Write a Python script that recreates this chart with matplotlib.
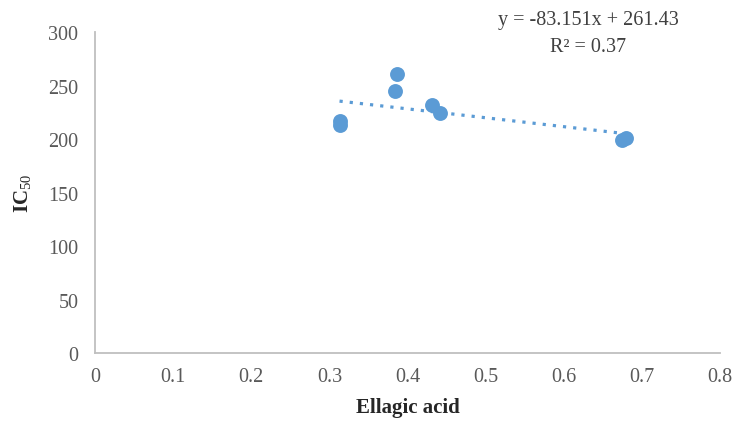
import numpy as np
import matplotlib
matplotlib.use('Agg')
import matplotlib.pyplot as plt

plt.rcParams['font.family'] = ['Liberation Serif', 'DejaVu Serif']
plt.rcParams['mathtext.fontset'] = 'custom'
plt.rcParams['mathtext.rm'] = 'Liberation Serif'
plt.rcParams['mathtext.bf'] = 'Liberation Serif:bold'

# data
ellagic = [0.313, 0.313, 0.386, 0.384, 0.431, 0.441, 0.675, 0.680]
ic50 = [216.6, 213.3, 260.7, 244.6, 231.8, 224.3, 199.2, 200.5]
slope, intercept = -83.151, 261.43
x_ticks = [0, 0.1, 0.2, 0.3, 0.4, 0.5, 0.6, 0.7, 0.8]
y_ticks = [0, 50, 100, 150, 200, 250, 300]

blue = '#5B9BD5'
grey = '#595959'

fig = plt.figure(figsize=(7.35, 4.27), dpi=100)
ax = fig.add_axes([95 / 735, 1 - 354 / 427, 625 / 735, 321 / 427])

ax.scatter(ellagic, ic50, s=115, color=blue, zorder=3, linewidths=0)
xl = np.array([min(ellagic), max(ellagic)])
ax.plot(xl, slope * xl + intercept, color=blue, linestyle=(0, (1, 2.2)),
        linewidth=2.3, zorder=2)

ax.set_xlim(0, 0.8)
ax.set_ylim(0, 300)
ax.set_xticks(x_ticks)
ax.set_xticklabels(['0' if t == 0 else f'{t:g}' for t in x_ticks])
ax.set_yticks(y_ticks)
ax.tick_params(length=0, labelsize=14.5, colors=grey, pad=10)
ax.tick_params(axis='y', pad=12)

for s in ['top', 'right']:
    ax.spines[s].set_visible(False)
for s in ['left', 'bottom']:
    ax.spines[s].set_color('#BFBFBF')
    ax.spines[s].set_linewidth(1.3)

ax.set_xlabel('Ellagic acid', fontsize=15, fontweight='bold', color='#262626', labelpad=8)
ax.set_ylabel(r'IC$_{50}$', fontsize=15, fontweight='bold', color='#262626', labelpad=10)

fig.text(588 / 735, 1 - 20 / 427, 'y = -83.151x + 261.43', ha='center', va='center',
         fontsize=14.5, color='#404040')
fig.text(588 / 735, 1 - 47 / 427, 'R² = 0.37', ha='center', va='center',
         fontsize=14.5, color='#404040')

fig.savefig('out.png', dpi=100)
